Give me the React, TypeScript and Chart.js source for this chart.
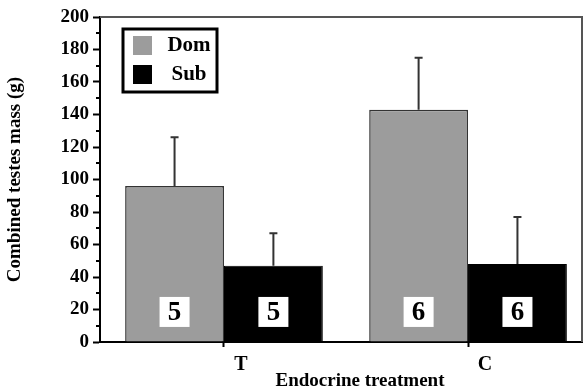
import React, { useEffect, useRef } from 'react';
import { Chart, registerables } from 'chart.js';

Chart.register(...registerables);

const categories = ['T', 'C'];
const categoryPositions = [1, 2];
const seriesLabels = ['Dom', 'Sub'];
const domMeans = [96, 143];
const domSD = [30, 32];
const subMeans = [47, 48];
const subSD = [20, 29];
const domN = [5, 6];
const subN = [5, 6];
const yMin = 0;
const yMax = 200;
const yStep = 20;
const yMinorStep = 10;
const nLabelValue = 18.5;
const yTitle = 'Combined testes mass (g)';
const xTitle = 'Endocrine treatment';

const FONT = '"Liberation Serif", "Times New Roman", Times, serif';
const DOM_COLOR = '#9c9c9c';
const SUB_COLOR = '#000000';

const decorPlugin = {
  id: 'decor',
  afterDatasetsDraw(chart: any) {
    const ctx = chart.ctx;
    const y = chart.scales.y;
    const sds = [domSD, subSD];
    const ns = [domN, subN];
    chart.data.datasets.forEach((ds: any, di: number) => {
      const meta = chart.getDatasetMeta(di);
      meta.data.forEach((bar: any, i: number) => {
        const v = ds.data[i].y;
        const yt = y.getPixelForValue(v + sds[di][i]);
        ctx.save();
        ctx.strokeStyle = '#333';
        ctx.lineWidth = 2;
        ctx.beginPath();
        ctx.moveTo(bar.x, bar.y);
        ctx.lineTo(bar.x, yt);
        ctx.moveTo(bar.x - 4, yt);
        ctx.lineTo(bar.x + 4, yt);
        ctx.stroke();
        const cy = y.getPixelForValue(nLabelValue);
        ctx.fillStyle = '#fff';
        ctx.fillRect(bar.x - 15, cy - 15, 30, 30);
        ctx.fillStyle = '#000';
        ctx.font = `bold 27px ${FONT}`;
        ctx.textAlign = 'center';
        ctx.textBaseline = 'middle';
        ctx.fillText(String(ns[di][i]), bar.x, cy + 1);
        ctx.restore();
      });
    });
  },
  afterDraw(chart: any) {
    const ctx = chart.ctx;
    const { left, right, top, bottom } = chart.chartArea;
    const y = chart.scales.y;
    ctx.save();
    // frame top/right
    ctx.strokeStyle = '#555';
    ctx.lineWidth = 2;
    ctx.beginPath();
    ctx.moveTo(left, top);
    ctx.lineTo(right, top);
    ctx.lineTo(right, bottom);
    ctx.stroke();
    // minor ticks
    ctx.strokeStyle = '#000';
    ctx.lineWidth = 2;
    ctx.beginPath();
    for (let v = yMin + yMinorStep; v < yMax; v += yStep) {
      const py = Math.round(y.getPixelForValue(v));
      ctx.moveTo(left - 4, py);
      ctx.lineTo(left, py);
    }
    ctx.stroke();
    // legend
    const lx = left + 23;
    const ly = top + 12;
    const lw = 94;
    const lh = 63;
    ctx.fillStyle = '#fff';
    ctx.fillRect(lx, ly, lw, lh);
    ctx.strokeStyle = '#000';
    ctx.lineWidth = 3;
    ctx.strokeRect(lx, ly, lw, lh);
    ctx.font = `bold 21px ${FONT}`;
    ctx.textBaseline = 'middle';
    ctx.textAlign = 'center';
    chart.data.datasets.forEach((ds: any, i: number) => {
      const sy = ly + 7 + i * 29;
      ctx.fillStyle = ds.backgroundColor;
      ctx.fillRect(lx + 10, sy, 19, 19);
      ctx.fillStyle = '#000';
      ctx.fillText(ds.label, lx + 66, sy + 10);
    });
    // x title
    ctx.font = `bold 19px ${FONT}`;
    ctx.textAlign = 'center';
    ctx.textBaseline = 'middle';
    ctx.fillStyle = '#000';
    ctx.fillText(xTitle, 360, 381);
    ctx.restore();
  },
};

export default function App() {
  const ref = useRef<HTMLCanvasElement>(null);
  useEffect(() => {
    document.body.style.margin = '0';
    const canvas = ref.current!;
    const chart = new Chart(canvas, {
      type: 'bar',
      data: {
        datasets: [
          {
            label: seriesLabels[0],
            data: categoryPositions.map((x, i) => ({ x, y: domMeans[i] })),
            backgroundColor: DOM_COLOR,
            borderColor: '#333',
            borderWidth: 1.5,
          },
          {
            label: seriesLabels[1],
            data: categoryPositions.map((x, i) => ({ x, y: subMeans[i] })),
            backgroundColor: SUB_COLOR,
            borderColor: '#000',
            borderWidth: 1,
          },
        ],
      },
      plugins: [decorPlugin],
      options: {
        responsive: false,
        animation: false,
        devicePixelRatio: 1,
        layout: { padding: { top: 17, right: 1, left: 0, bottom: 0 } },
        datasets: {
          bar: { categoryPercentage: 0.81, barPercentage: 1.0 },
        },
        plugins: {
          legend: { display: false },
          tooltip: { enabled: false },
        },
        scales: {
          x: {
            type: 'linear',
            min: 0.492,
            max: 2.467,
            offset: false,
            afterBuildTicks: (scale: any) => {
              scale.ticks = categoryPositions.map((v) => ({ value: v }));
            },
            afterFit: (scale: any) => {
              scale.height = 46;
            },
            border: { color: '#000', width: 2 },
            grid: {
              offset: false,
              drawOnChartArea: false,
              drawTicks: true,
              tickLength: 5,
              color: '#000',
              tickWidth: 2,
            },
            ticks: {
              autoSkip: false,
              maxRotation: 0,
              labelOffset: 17,
              padding: 6,
              color: '#000',
              font: { family: FONT, size: 20, weight: 'bold' },
              callback: (v: any) => {
                const idx = categoryPositions.indexOf(Number(v));
                return idx >= 0 ? categories[idx] : '';
              },
            },
          },
          y: {
            min: yMin,
            max: yMax,
            afterFit: (scale: any) => {
              scale.width = 100;
            },
            border: { color: '#000', width: 2 },
            grid: {
              drawOnChartArea: false,
              drawTicks: true,
              tickLength: 7,
              color: '#000',
              tickWidth: 2,
            },
            ticks: {
              stepSize: yStep,
              padding: 4,
              color: '#000',
              font: { family: FONT, size: 19, weight: 'bold' },
            },
            title: {
              display: true,
              text: yTitle,
              color: '#000',
              font: { family: FONT, size: 19, weight: 'bold' },
              padding: { top: 4, bottom: 0 },
            },
          },
        },
      },
    } as any);
    return () => chart.destroy();
  }, []);
  return (
    <div style={{ width: 583, height: 388 }}>
      <canvas ref={ref} width={583} height={388} />
    </div>
  );
}
